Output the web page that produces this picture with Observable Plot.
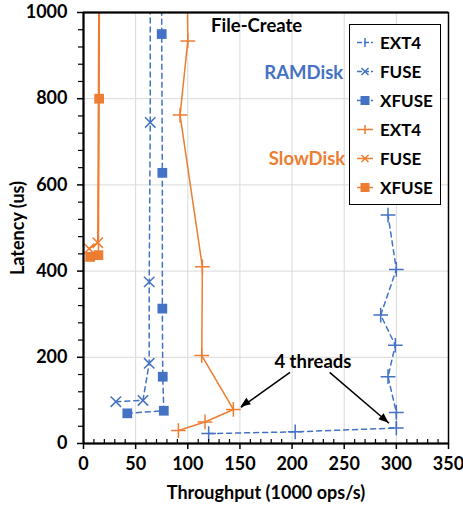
<!DOCTYPE html>
<html>
<head>
<meta charset="utf-8">
<script src="https://cdn.jsdelivr.net/npm/d3@7"></script>
<script src="https://cdn.jsdelivr.net/npm/@observablehq/plot@0.6"></script>
<style>
  body { margin: 0; background: #fff; }
  #wrap { position: relative; width: 463px; height: 507px; font-family: Lato, "Open Sans", sans-serif; }
  #legend { position: absolute; left: 349px; top: 24px; width: 90px; height: 176px; border: 1.5px solid #000; background: #fff;
            box-sizing: content-box; padding-top: 3px; }
  .li { display: flex; align-items: center; height: 29px; font-weight: bold; font-size: 17px; color: #000; }
  .li svg { margin-left: 7px; margin-right: 7px; }
</style>
</head>
<body>
<div id="wrap"><div id="legend"></div></div>
<script>
// ---- data ----
const seriesNames = ["RAMDisk EXT4", "RAMDisk FUSE", "RAMDisk XFUSE", "SlowDisk EXT4", "SlowDisk FUSE", "SlowDisk XFUSE"];
const legendLabels = ["EXT4", "FUSE", "XFUSE", "EXT4", "FUSE", "XFUSE"];

const ramExt4X = [120, 203, 300, 300, 292, 299, 285, 300, 292];
const ramExt4Y = [23, 27, 36, 72, 155, 228, 298, 404, 530];
const ramFuseX = [31, 57, 63, 63, 64, 64];
const ramFuseY = [97, 100, 186, 375, 745, 1200];
const ramXfuseX = [42, 77, 76, 75.6, 75.6, 75, 75];
const ramXfuseY = [70, 76, 155, 313, 628, 950, 1200];
const slowExt4X = [91, 116.5, 143.7, 113.4, 114, 92.6, 100, 99];
const slowExt4Y = [30, 50, 79, 204, 410, 762, 934, 1200];
const slowFuseX = [5.4, 13.7, 15];
const slowFuseY = [452, 466, 1200];
const slowXfuseX = [6.4, 14.3, 15, 15.5];
const slowXfuseY = [433, 437, 800, 1200];

const xTicks = [0, 50, 100, 150, 200, 250, 300, 350];
const yTicks = [0, 200, 400, 600, 800, 1000];
const xMinor = d3.range(0, 351, 10).filter(v => v % 50 !== 0);
const yMinor = d3.range(0, 1001, 40).filter(v => v % 200 !== 0);

const arrowFromX = [198, 236];
const arrowFromY = [165, 165];
const arrowToX = [151, 293];
const arrowToY = [84, 47];

// ---- build ----
const xs = [ramExt4X, ramFuseX, ramXfuseX, slowExt4X, slowFuseX, slowXfuseX];
const ys = [ramExt4Y, ramFuseY, ramXfuseY, slowExt4Y, slowFuseY, slowXfuseY];
const BLUE = "#4472C4", ORANGE = "#ED7D31";
const colors = [BLUE, BLUE, BLUE, ORANGE, ORANGE, ORANGE];
const symbols = ["plus", "times", "square", "plus", "times", "square"];
const dashed = [true, true, true, false, false, false];

const rows = seriesNames.map((s, i) => xs[i].map((x, j) => ({series: s, x, y: ys[i][j]})));

const marks = [
  Plot.gridX(xTicks.filter(v => v > 0 && v < 350), {stroke: "#d9d9d9", strokeOpacity: 1, strokeWidth: 1}),
  Plot.gridY(yTicks.filter(v => v > 0 && v < 1000), {stroke: "#d9d9d9", strokeOpacity: 1, strokeWidth: 1}),
];
rows.forEach((data, i) => {
  marks.push(Plot.line(data, {x: "x", y: "y", stroke: colors[i], strokeWidth: 1.5,
    strokeDasharray: dashed[i] ? "5,4" : null, clip: true}));
});
rows.forEach((data, i) => {
  const inside = data.filter(d => d.y <= 1000);
  if (symbols[i] === "square") {
    marks.push(Plot.dot(inside, {x: "x", y: "y", symbol: "square", r: 5.5, fill: colors[i], stroke: null}));
  } else {
    marks.push(Plot.dot(inside, {x: "x", y: "y", symbol: symbols[i], r: 4.8, stroke: colors[i], strokeWidth: 1.5, fill: "none"}));
  }
});

// filled arrowheads
function arrowHeads() {
  return (index, scales) => {
    const g = d3.create("svg:g");
    arrowToX.forEach((x2, i) => {
      const px2 = scales.x(x2), py2 = scales.y(arrowToY[i]);
      const px1 = scales.x(arrowFromX[i]), py1 = scales.y(arrowFromY[i]);
      const a = Math.atan2(py2 - py1, px2 - px1);
      const L = 10, W = 4;
      const bx = px2 - L * Math.cos(a), by = py2 - L * Math.sin(a);
      const pts = [[px2, py2], [bx + W * Math.sin(a), by - W * Math.cos(a)], [bx - W * Math.sin(a), by + W * Math.cos(a)]];
      g.append("path").attr("d", "M" + pts.join("L") + "Z").attr("fill", "#000");
    });
    return g.node();
  };
}

marks.push(
  Plot.axisX(xMinor, {tickSize: -4, tickFormat: () => "", label: null, strokeWidth: 1.2}),
  Plot.axisY(yMinor, {tickSize: 5, tickFormat: () => "", label: null, strokeWidth: 1.2}),
  Plot.axisX(xTicks, {tickSize: 6, tickPadding: 8, tickFormat: d => String(d), label: "Throughput (1000 ops/s)", labelAnchor: "center", labelOffset: 55, labelArrow: "none", strokeWidth: 1.5, fontSize: 18}),
  Plot.axisY(yTicks, {tickSize: 6, tickPadding: 10, tickFormat: d => String(d), label: "Latency (us)", labelAnchor: "center", labelOffset: 72, labelArrow: "none", strokeWidth: 1.5, fontSize: 18}),
  Plot.frame({stroke: "#000", strokeWidth: 1.5}),
  Plot.ruleY([0], {stroke: "#000", strokeWidth: 2}),
  Plot.ruleX([0], {stroke: "#000", strokeWidth: 2}),
  Plot.ruleY([1000], {stroke: "#000", strokeWidth: 2}),
  Plot.text(["File-Create"], {x: 166, y: 968, text: d => d, fill: "#000", fontSize: 18.5, fontWeight: "bold"}),
  Plot.text(["RAMDisk"], {x: 249, y: 860, text: d => d, textAnchor: "end", fill: BLUE, fontSize: 18.5, fontWeight: "bold"}),
  Plot.text(["SlowDisk"], {x: 251, y: 660, text: d => d, textAnchor: "end", fill: ORANGE, fontSize: 18.5, fontWeight: "bold"}),
  Plot.text(["4 threads"], {x: 220, y: 188, text: d => d, fill: "#000", fontSize: 18.5, fontWeight: "bold"}),
  Plot.link(arrowFromX.map((d, i) => i), {x1: i => arrowFromX[i], y1: i => arrowFromY[i], x2: i => arrowToX[i], y2: i => arrowToY[i],
    stroke: "#000", strokeWidth: 1.5}),
  arrowHeads()
);

const chart = Plot.plot({
  width: 463, height: 507,
  marginLeft: 83, marginRight: 15, marginTop: 12, marginBottom: 64,
  x: {domain: [0, 350]},
  y: {domain: [0, 1000]},
  style: {fontFamily: "Lato, 'Open Sans', sans-serif", fontWeight: "bold", fontSize: "18px", color: "#000", background: "#fff", overflow: "visible"},
  marks
});
document.getElementById("wrap").prepend(chart);

// legend
const leg = document.getElementById("legend");
legendLabels.forEach((lab, i) => {
  const c = colors[i];
  let sym;
  if (symbols[i] === "plus") sym = `<line x1="8" y1="3" x2="8" y2="12" stroke="${c}" stroke-width="1.5"/>`;
  else if (symbols[i] === "times") sym = `<line x1="4.5" y1="4" x2="11.5" y2="11" stroke="${c}" stroke-width="1.5"/><line x1="11.5" y1="4" x2="4.5" y2="11" stroke="${c}" stroke-width="1.5"/>`;
  else sym = `<rect x="3.5" y="3" width="9" height="9" fill="${c}"/>`;
  const div = document.createElement("div");
  div.className = "li";
  div.innerHTML = `<svg width="16" height="15"><line x1="0" y1="7.5" x2="16" y2="7.5" stroke="${c}" stroke-width="1.5" ${dashed[i] ? 'stroke-dasharray="5,2"' : ''}/>${sym}</svg><span>${lab}</span>`;
  leg.appendChild(div);
});
</script>
</body>
</html>
